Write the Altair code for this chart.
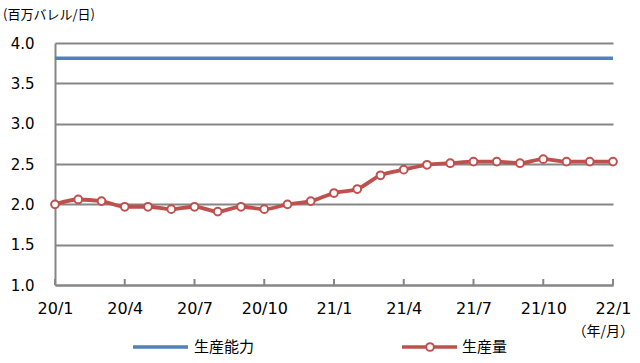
import altair as alt
import pandas as pd

months = ["20/1", "20/2", "20/3", "20/4", "20/5", "20/6", "20/7", "20/8", "20/9",
          "20/10", "20/11", "20/12", "21/1", "21/2", "21/3", "21/4", "21/5", "21/6",
          "21/7", "21/8", "21/9", "21/10", "21/11", "21/12", "22/1"]
production = [2.00, 2.06, 2.04, 1.97, 1.97, 1.94, 1.97, 1.91, 1.97, 1.94, 2.00, 2.04,
              2.14, 2.19, 2.36, 2.43, 2.49, 2.51, 2.53, 2.53, 2.51, 2.56, 2.53, 2.53, 2.53]
capacity = [3.81, 3.81, 3.81, 3.81, 3.81, 3.81, 3.81, 3.81, 3.81, 3.81, 3.81, 3.81,
            3.81, 3.81, 3.81, 3.81, 3.81, 3.81, 3.81, 3.81, 3.81, 3.81, 3.81, 3.81, 3.81]
tick_months = ["20/1", "20/4", "20/7", "20/10", "21/1", "21/4", "21/7", "21/10", "22/1"]
y_ticks = [1.0, 1.5, 2.0, 2.5, 3.0, 3.5, 4.0]
series_names = ["生産能力", "生産量"]
unit_label = "(百万バレル/日)"
x_unit_label = "（年/月）"

RED = "#C0504D"
BLUE = "#4F81BD"
GRAY = "#868686"
NUM_FONT = "DejaVu Sans"
JP_FONT = "Noto Sans CJK JP"

df = pd.DataFrame({
    "i": list(range(len(months))),
    "month": months,
    "production": production,
    "capacity": capacity,
})
tick_df = pd.DataFrame({"i": [months.index(m) for m in tick_months]})

label_expr = "[" + ",".join("'%s'" % m for m in months) + "][datum.value]"
tick_idx = [months.index(m) for m in tick_months]

x_scale = alt.Scale(domain=[0, len(months) - 1], nice=False, zero=False)
y_scale = alt.Scale(domain=[1.0, 4.0], nice=False, zero=False)

x_axis = alt.Axis(values=tick_idx, labelExpr=label_expr, title=None, grid=False,
                  ticks=False, tickSize=0, domainColor=GRAY, domainWidth=2,
                  labelFont=NUM_FONT, labelFontSize=16, labelColor="black",
                  labelPadding=15, labelFlush=False)
y_axis = alt.Axis(values=y_ticks, format=".1f", title=None, grid=True, gridColor=GRAY,
                  gridWidth=2, ticks=False, tickSize=0, domainColor=GRAY, domainWidth=2,
                  labelFont=NUM_FONT, labelFontSize=15, labelColor="black",
                  labelPadding=21)

X = alt.X("i:Q", scale=x_scale, axis=x_axis)

base = alt.Chart(df)

cap_line = base.mark_line(color=BLUE, strokeWidth=3.5).encode(
    x=X,
    y=alt.Y("capacity:Q", scale=y_scale, axis=y_axis),
)

prod_line = base.mark_line(color=RED, strokeWidth=3.8, interpolate="monotone").encode(
    x=X,
    y=alt.Y("production:Q", scale=y_scale, axis=y_axis),
)

prod_pts = base.mark_point(filled=True, fill="white", stroke=RED, strokeWidth=2,
                           size=60, opacity=1).encode(
    x=X,
    y=alt.Y("production:Q", scale=y_scale, axis=y_axis),
)

ticks = alt.Chart(tick_df).mark_rule(color=GRAY, strokeWidth=2).encode(
    x=X,
    y=alt.value(242),
    y2=alt.value(236),
)

one = alt.Data(values=[{"a": 1}])

leg_blue = alt.Chart(one).mark_rule(color=BLUE, strokeWidth=3.5).encode(
    x=alt.value(78), x2=alt.value(133), y=alt.value(304))
leg_blue_txt = alt.Chart(one).mark_text(text=series_names[0], font=JP_FONT, fontSize=15,
                                        align="left", baseline="middle", color="black").encode(
    x=alt.value(139), y=alt.value(304))
leg_red = alt.Chart(one).mark_rule(color=RED, strokeWidth=3.5).encode(
    x=alt.value(347), x2=alt.value(402), y=alt.value(304))
leg_red_pt = alt.Chart(one).mark_point(filled=True, fill="white", stroke=RED, strokeWidth=2,
                                       size=60, opacity=1).encode(
    x=alt.value(375), y=alt.value(304))
leg_red_txt = alt.Chart(one).mark_text(text=series_names[1], font=JP_FONT, fontSize=15,
                                       align="left", baseline="middle", color="black").encode(
    x=alt.value(407), y=alt.value(304))

unit_txt = alt.Chart(one).mark_text(text=unit_label, font=JP_FONT, fontSize=13,
                                    align="left", baseline="middle", color="black").encode(
    x=alt.value(-52), y=alt.value(-28))
xunit_txt = alt.Chart(one).mark_text(text=x_unit_label, font=JP_FONT, fontSize=14,
                                     align="right", baseline="middle", color="black").encode(
    x=alt.value(579), y=alt.value(289))

chart = alt.layer(
    cap_line, ticks, prod_line, prod_pts,
    leg_blue, leg_blue_txt, leg_red, leg_red_pt, leg_red_txt,
    unit_txt, xunit_txt,
).properties(
    width=558, height=242,
    autosize=alt.AutoSizeParams(type="none"),
    padding={"left": 55, "top": 43, "right": 27, "bottom": 78},
    background="white",
).configure_view(stroke=None)

chart.save("out.html", embed_options={"renderer": "svg", "actions": False})
